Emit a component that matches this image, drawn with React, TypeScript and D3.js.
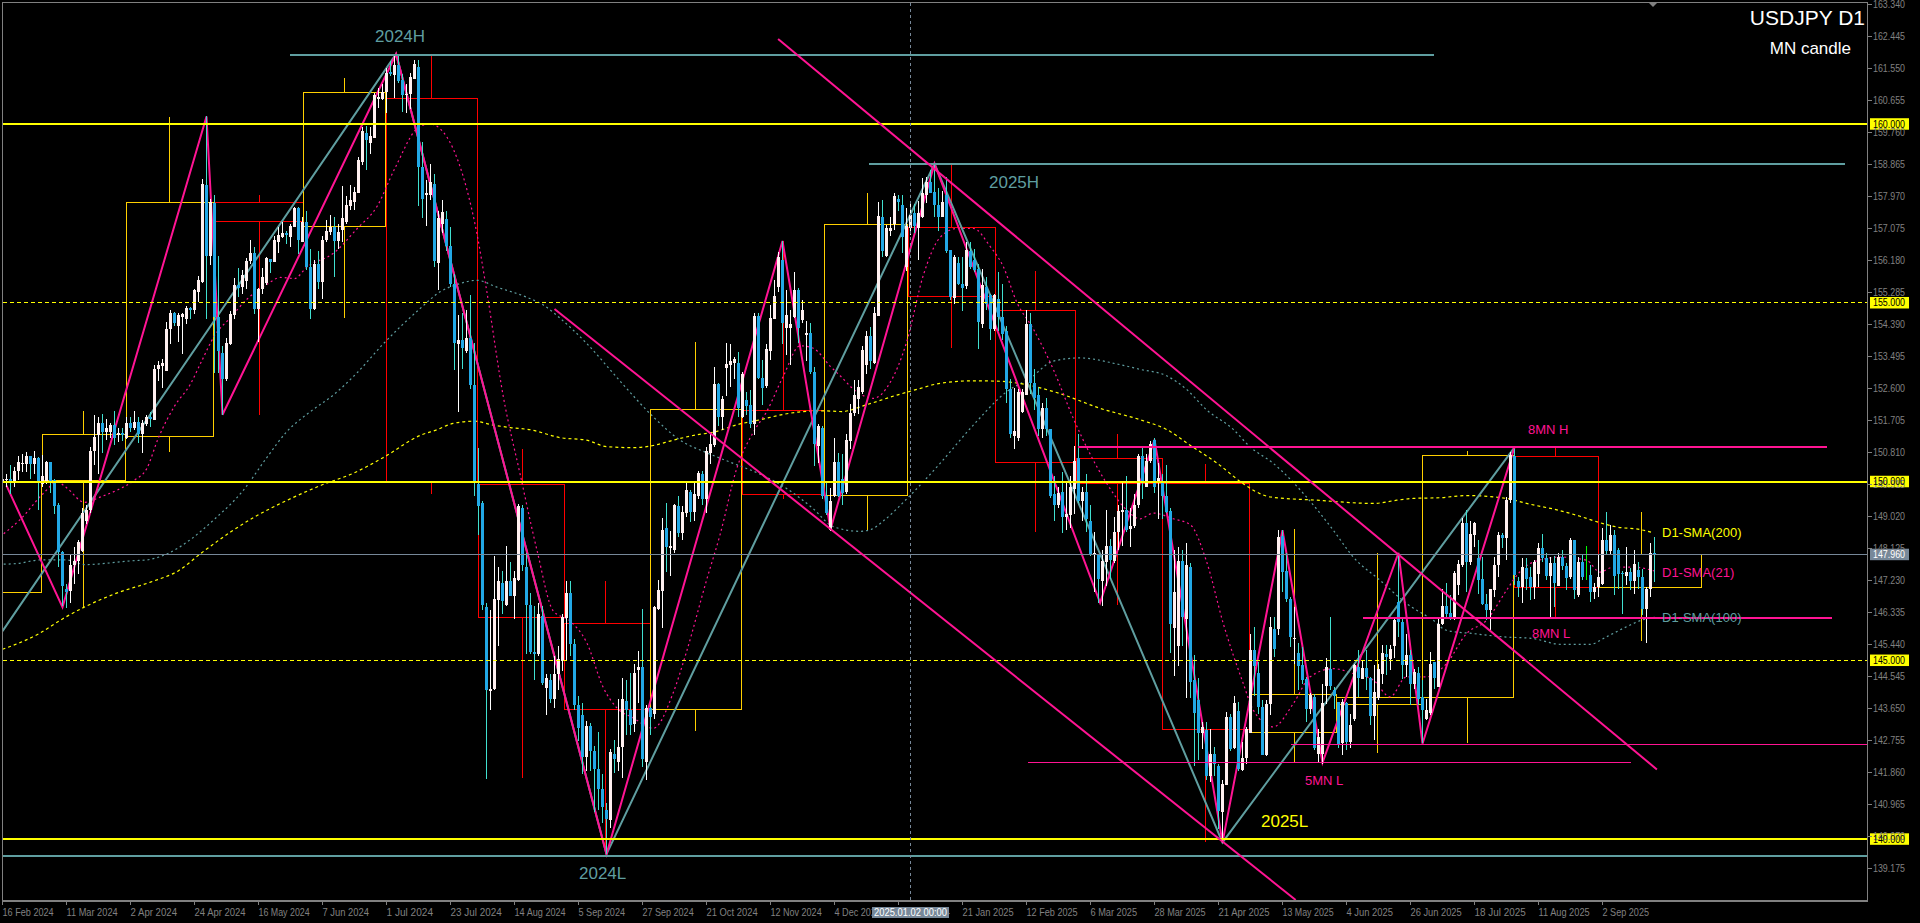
// App.tsx - USDJPY D1 chart with monthly candles
import React from 'react';
import * as d3 from 'd3';

const opens = [
150.02,150.05,150.07,149.95,150.28,150.50,150.47,150.70,150.47,150.66,
149.93,149.98,150.54,150.03,149.33,148.03,147.00,146.93,147.65,147.76,
148.05,148.90,149.20,150.84,151.30,151.64,151.38,151.38,151.56,151.28,
151.36,151.22,151.63,151.50,151.67,151.33,151.60,151.80,151.72,153.13,
153.22,153.09,154.25,154.70,154.35,154.60,154.55,154.85,154.78,155.28,
155.58,158.28,156.30,157.78,154.60,153.60,152.85,153.85,154.66,155.50,
155.42,155.60,156.15,156.38,154.83,155.37,155.55,156.22,156.14,156.68,
156.82,156.95,156.82,157.12,157.63,156.70,157.24,155.98,154.83,156.07,
155.58,156.74,156.98,157.11,156.72,157.02,157.25,157.70,157.82,158.06,
158.93,159.75,159.47,159.60,160.70,160.70,160.88,161.45,161.37,161.63,
161.22,160.80,160.82,161.25,161.60,158.79,158.00,158.00,158.32,156.10,
157.20,157.33,156.58,155.53,153.85,153.96,153.65,154.00,152.68,149.93,
149.40,146.49,144.14,144.20,146.68,147.15,146.55,147.20,146.80,147.23,
149.24,147.60,146.54,145.23,145.16,146.24,144.23,144.43,143.90,144.60,
144.97,146.17,146.87,145.45,143.73,143.45,142.30,143.15,142.45,141.95,
141.40,140.80,140.53,142.37,142.16,142.58,143.85,143.60,143.20,144.72,
144.80,142.16,143.65,143.50,146.44,146.92,148.70,148.13,148.08,149.30,
148.55,149.10,149.70,149.15,149.60,150.20,149.50,150.78,151.01,152.73,
151.80,153.16,153.25,153.31,153.31,151.80,152.27,152.12,151.60,154.62,
152.90,152.66,153.65,154.55,155.44,156.20,154.29,154.30,154.60,155.36,
154.50,154.08,154.15,153.05,151.00,151.50,149.58,148.65,149.58,150.54,
150.07,149.70,151.14,151.91,152.29,152.51,153.26,154.07,153.32,154.63,
157.38,156.30,157.00,157.20,157.90,157.73,155.98,157.07,157.50,157.07,
157.40,158.00,158.36,158.10,157.73,157.40,158.00,156.48,155.13,156.10,
155.53,155.45,156.43,156.20,155.95,154.40,155.44,155.20,154.25,155.10,
154.60,154.20,152.57,151.27,151.20,151.95,152.40,154.41,152.76,152.40,
151.45,152.04,151.45,149.65,149.33,149.70,148.99,149.05,149.78,150.64,
149.45,149.70,148.90,147.95,147.95,147.20,147.73,148.20,147.78,148.58,
149.15,149.20,148.66,148.74,149.33,150.70,149.85,150.57,151.16,149.95,
149.95,149.58,149.17,145.90,145.40,147.76,146.15,147.60,144.45,143.87,
142.95,143.05,141.75,142.37,142.05,140.75,141.50,143.40,142.55,143.57,
141.92,142.25,142.95,145.27,144.64,143.69,142.34,143.78,145.88,145.86,
148.46,147.49,146.72,145.60,145.20,144.86,144.47,143.63,143.98,142.38,
142.38,144.27,144.76,144.15,143.83,142.68,143.79,142.71,143.34,144.81,
144.48,144.79,144.51,143.43,143.93,144.62,145.17,145.02,145.38,146.63,
146.07,144.86,145.15,144.32,144.64,143.97,143.36,143.52,144.95,144.25,
146.00,146.50,146.32,146.19,147.09,147.65,148.82,147.74,148.50,147.84,
147.28,146.56,146.39,146.95,147.65,148.49,148.42,149.47,150.70,147.21,
147.05,147.58,147.33,147.05,147.42,148.12,147.84,147.34,147.72,147.06,
147.87,147.62,147.33,148.36,146.82,147.75,147.70,147.38,146.91,147.05,
147.14,148.36,148.05,148.50,148.08,147.44,147.36,147.45,147.22,147.52,
147.31,146.44,147.00,147.99,
];

const closes = [
150.05,150.07,149.95,150.28,150.54,150.52,150.70,150.47,150.66,149.95,
150.14,150.54,149.95,149.31,148.01,147.08,146.90,147.65,147.78,148.30,
149.10,149.20,150.86,151.25,151.64,151.38,151.50,151.58,151.20,151.36,
151.28,151.63,151.50,151.67,151.33,151.64,151.80,151.73,153.15,153.25,
153.30,154.25,154.70,154.42,154.65,154.68,154.85,154.78,155.35,155.63,
158.31,156.30,157.80,154.60,153.65,152.85,153.87,154.68,155.48,155.40,
155.78,156.17,156.38,154.83,155.37,155.71,156.25,156.12,156.76,156.90,
156.95,156.90,157.15,157.63,156.76,157.24,155.98,154.83,156.07,155.58,
156.76,157.00,157.11,156.72,156.97,157.37,157.72,157.88,158.10,158.98,
159.81,159.55,159.66,160.80,160.75,160.88,161.43,161.40,161.65,161.20,
160.80,160.83,161.30,161.67,158.80,157.90,158.07,158.36,156.15,157.36,
157.53,156.58,155.53,153.86,153.96,153.72,154.00,152.68,150.00,149.30,
146.55,144.16,144.20,146.70,147.20,146.66,147.20,146.80,147.30,149.30,
147.65,146.54,145.23,145.16,146.30,144.37,144.50,143.90,144.60,145.03,
146.20,146.87,145.45,143.73,143.10,142.30,143.15,142.45,141.95,141.40,
140.90,140.56,142.42,142.23,142.58,143.90,143.60,143.17,144.65,144.80,
142.23,143.65,143.40,146.47,146.95,148.65,148.15,148.20,149.35,148.55,
149.15,149.75,149.15,149.65,150.22,149.50,150.85,151.05,152.73,151.80,
152.31,153.28,153.36,153.41,152.04,152.99,152.10,151.60,154.62,152.90,
152.62,153.71,154.58,155.18,156.28,154.43,154.65,154.39,155.36,154.29,
154.80,154.15,153.05,151.05,151.55,149.58,149.10,149.44,150.54,149.58,
149.66,151.16,151.91,152.41,152.64,153.66,154.07,153.36,154.72,157.41,
156.45,157.07,157.07,157.98,157.82,156.82,157.13,157.45,157.13,157.50,
158.07,158.36,158.07,157.73,157.40,157.82,156.44,155.16,156.28,155.53,
155.41,156.48,156.00,155.90,154.45,155.50,154.95,154.26,155.20,154.60,
154.13,152.57,151.32,151.41,152.50,152.50,154.41,152.76,152.32,151.45,
152.04,151.45,149.58,149.33,149.66,148.99,149.08,149.83,150.57,149.45,
149.70,148.95,147.95,148.00,147.26,147.76,148.20,147.80,148.58,149.16,
149.20,148.64,148.76,149.33,150.70,150.00,150.57,151.04,149.83,150.10,
149.58,149.14,146.02,146.90,147.76,146.20,147.66,144.39,143.52,142.95,
143.12,141.75,142.37,142.08,140.77,141.52,143.40,142.52,143.80,141.96,
142.27,143.08,145.27,144.83,143.69,142.34,143.78,145.91,145.32,148.44,
147.46,146.72,145.65,145.63,144.83,144.45,143.64,144.02,142.53,142.85,
143.80,144.81,144.27,144.00,142.62,143.83,142.71,143.18,144.86,144.51,
144.79,144.53,143.43,144.11,144.76,145.20,145.09,145.32,146.11,146.07,
144.86,145.15,144.32,144.67,143.92,143.60,143.60,144.90,144.51,146.02,
146.50,146.28,146.19,147.44,147.68,148.82,147.74,148.52,148.82,147.25,
146.56,146.39,147.00,147.65,148.49,148.42,149.47,150.73,147.37,147.05,
147.60,147.28,147.05,147.74,148.12,147.84,147.34,147.72,147.16,147.87,
147.62,147.30,148.36,146.96,147.75,147.31,147.70,146.91,147.03,147.33,
148.36,148.05,148.50,147.35,147.40,147.42,147.45,147.22,147.68,147.33,
146.44,147.00,147.99,147.96,
];

const highs = [
150.17,150.20,150.45,150.40,150.70,150.75,150.82,150.70,150.84,150.68,
150.73,150.57,150.52,150.07,149.38,148.05,147.13,147.95,148.17,148.37,
149.25,149.33,150.96,151.85,151.80,151.87,151.75,151.63,151.97,151.48,
151.50,151.79,151.79,151.97,151.80,151.70,151.85,151.95,153.25,153.35,
153.42,154.45,154.80,154.74,154.70,154.72,154.90,154.88,155.38,155.73,
158.44,160.22,157.90,158.00,156.30,153.78,154.00,154.77,155.68,155.97,
155.90,156.25,156.76,156.56,155.40,155.97,156.28,156.22,156.85,157.10,
157.26,157.00,157.20,157.68,157.68,157.40,157.55,156.50,156.20,156.43,
156.85,157.30,157.45,157.40,157.20,158.25,157.98,158.28,158.23,159.07,
159.90,159.95,159.92,160.85,161.00,161.10,161.55,161.75,161.95,161.93,
161.40,161.10,161.42,161.78,161.78,159.50,158.43,158.86,158.60,157.57,
157.86,157.57,157.10,155.80,154.65,154.72,154.80,155.20,153.87,150.93,
149.44,146.60,146.40,147.90,147.60,147.50,148.20,147.73,147.50,149.36,
149.34,148.00,146.87,146.50,146.60,146.50,144.60,144.60,145.10,145.40,
146.30,147.20,147.20,145.60,144.00,143.80,143.30,143.25,142.60,143.00,
141.80,141.00,142.50,142.75,143.90,144.50,144.45,144.65,144.90,145.25,
146.43,143.73,143.70,146.50,147.23,148.98,149.40,148.60,149.37,149.60,
149.30,150.00,149.75,150.00,150.30,150.30,150.95,151.37,153.20,152.75,
152.38,153.88,153.85,153.48,153.62,153.06,152.50,152.55,154.70,154.70,
153.40,153.85,154.92,155.62,156.42,156.73,155.34,154.79,155.86,155.40,
155.08,154.48,154.43,153.20,151.60,151.55,150.00,149.80,151.20,150.80,
150.76,151.32,152.16,152.82,152.82,153.78,154.20,154.32,154.86,157.82,
157.88,157.16,157.38,158.07,158.00,158.00,157.63,157.82,157.76,157.85,
158.48,158.50,158.70,158.88,158.20,158.13,158.50,156.48,156.32,156.26,
156.26,156.70,156.70,156.50,156.07,155.95,155.70,155.25,155.23,155.85,
155.53,154.35,152.85,152.60,152.57,152.57,154.78,154.70,153.13,152.64,
152.20,152.32,151.45,150.14,149.83,150.26,149.95,150.14,151.00,151.32,
149.83,150.20,149.33,148.58,147.95,148.08,149.20,148.39,149.00,149.33,
149.95,150.14,149.26,149.64,150.76,151.00,150.76,151.14,151.20,150.50,
150.20,150.45,149.26,148.08,148.16,148.08,148.27,147.70,145.14,144.50,
143.27,143.27,143.08,142.56,142.10,141.65,143.54,143.50,144.00,143.83,
142.70,143.14,145.74,145.93,144.95,143.88,143.88,146.19,146.19,148.65,
148.65,147.98,146.77,146.49,145.48,145.37,144.53,144.08,144.06,143.08,
144.34,145.07,146.21,144.25,143.83,143.92,143.83,143.50,144.90,145.27,
145.00,145.27,144.53,144.86,144.90,145.42,145.42,145.42,146.21,147.98,
146.21,145.74,145.27,144.76,144.80,144.44,143.92,145.22,144.95,146.21,
147.00,147.16,146.81,147.50,147.79,148.96,149.19,148.90,148.86,148.35,
147.87,146.86,147.00,147.88,148.58,148.54,149.56,150.82,150.91,147.33,
147.84,147.84,147.60,147.79,148.26,148.52,147.98,147.88,147.90,147.98,
148.09,147.72,148.40,148.36,147.89,147.93,148.19,147.66,147.16,147.93,
148.68,149.13,148.77,148.64,148.12,147.50,148.17,147.58,148.08,147.75,
147.56,147.03,148.28,148.45,
];

const lows = [
149.95,149.85,149.65,149.84,150.03,150.26,150.26,150.05,150.21,149.20,
149.84,149.93,149.67,149.08,147.60,146.51,146.46,146.60,147.13,147.40,
148.03,148.80,149.10,150.45,150.20,150.80,151.15,151.20,151.02,151.10,
151.12,151.17,151.38,151.43,151.07,150.80,151.55,151.53,151.70,152.80,
152.60,153.10,153.85,154.33,153.90,153.57,154.40,154.55,154.67,155.00,
155.55,154.53,156.05,153.03,153.03,151.84,152.80,153.80,154.53,155.15,
155.25,155.38,156.09,154.68,153.90,155.25,155.50,155.82,156.12,156.38,
156.80,156.64,156.55,157.10,156.36,156.70,155.90,154.53,154.78,155.37,
155.10,156.68,156.90,155.70,156.50,156.70,157.20,157.60,157.60,158.05,
158.85,158.70,159.14,159.60,160.45,160.65,160.30,161.33,160.72,161.15,
160.33,160.30,160.40,161.25,157.70,157.36,157.15,157.86,156.00,155.36,
156.93,156.43,155.43,153.12,151.94,153.15,153.58,152.58,149.58,148.50,
146.40,141.66,143.60,144.16,145.40,146.30,146.50,146.80,146.15,147.20,
147.50,145.16,145.16,144.45,145.10,144.30,143.45,143.80,143.65,144.15,
144.70,145.00,145.10,143.60,142.73,141.80,141.90,141.90,140.74,140.80,
140.45,139.57,140.30,141.85,141.90,141.70,142.90,142.90,143.00,143.80,
142.00,141.65,142.90,143.35,146.40,145.90,147.45,147.35,148.00,148.43,
148.35,149.00,148.85,148.90,149.50,149.35,149.10,150.48,150.96,151.54,
151.43,152.38,152.64,152.87,151.80,151.76,151.85,151.48,151.30,152.87,
152.13,152.62,153.39,154.55,155.30,153.85,153.53,153.25,154.58,153.87,
154.43,153.36,153.00,150.44,150.50,149.50,149.05,148.60,149.55,149.55,
149.33,149.64,150.89,151.82,151.89,152.45,153.00,153.13,153.28,154.61,
156.26,156.26,156.86,157.03,157.57,156.38,155.88,156.88,156.95,156.20,
157.36,157.78,158.07,157.38,157.00,157.38,156.38,155.07,154.95,155.50,
154.76,155.38,155.94,155.85,153.70,154.30,154.80,153.95,154.20,154.20,
153.95,152.20,151.20,150.90,151.14,151.90,152.40,152.45,152.00,151.26,
151.20,151.26,149.54,148.90,149.26,148.54,148.64,148.70,149.08,149.39,
148.90,148.58,147.91,146.89,146.60,146.50,147.07,147.26,147.70,148.08,
148.20,148.58,148.16,148.70,149.26,149.50,149.83,150.50,149.66,148.95,
148.95,149.12,145.20,144.55,144.83,145.40,143.95,143.95,142.05,142.20,
142.50,141.64,141.60,141.75,140.27,139.88,141.50,142.45,142.50,141.90,
141.90,142.10,142.95,144.00,143.50,142.34,142.31,143.46,145.09,145.69,
146.90,146.63,145.37,144.90,144.16,144.34,143.27,143.50,142.48,142.15,
142.10,143.78,144.15,143.64,142.53,142.34,142.48,142.53,143.30,143.97,
144.48,144.15,143.18,142.76,143.88,144.34,144.58,144.71,145.05,145.65,
144.48,144.53,143.74,144.20,143.74,142.67,143.32,143.45,144.20,144.25,
145.97,146.20,146.11,146.11,146.81,147.60,146.90,147.65,148.16,146.86,
146.53,146.11,145.83,146.77,147.32,148.12,147.79,149.38,147.09,146.77,
146.60,146.95,146.67,146.72,147.05,147.74,147.23,146.20,146.47,147.06,
147.53,146.96,147.28,146.72,146.77,147.24,147.24,146.63,146.72,146.75,
147.10,147.93,147.96,146.82,147.00,146.30,147.10,146.96,146.86,147.00,
146.26,145.48,146.77,147.19,
];

// bar drawn only as a lime line in the terminal
const limeBars = [396];

// monthly candles, positions in daily bar numbers
const monthFrom = [-3,10,31,52.9,75.2,95.9,119,140.5,162,185,205.5,226.5,248.3,268.4,289.9,311.9,333.5,355,377.9,399];
const monthTo = [9.8,30.8,52.7,75.2,95.8,118.7,140.5,161.9,184.8,205.5,226.3,248.2,268.2,289.8,311.7,333.4,354.8,377.7,398.8,424.8];
const monthMid = [-3,20.2,41.7,64.2,85.4,107.2,130,150.7,173.2,195.2,216.2,237.2,258.2,278.7,300.7,322.9,343.7,366.2,388.2,409.8];
const monthOpen = [146.9,150.0,151.25,157.8,157.13,160.71,149.91,146.03,143.62,151.97,149.6,157.09,154.78,150.64,149.95,142.97,143.76,143.95,150.7,147.03];
const monthClose = [150.0,151.3,157.8,157.28,160.88,149.97,146.2,143.62,152.0,149.63,157.17,155.16,150.54,149.95,143.06,144.04,143.95,150.73,147.03,147.96];
const monthHigh = [150.0,151.97,160.2,158.0,161.27,161.95,150.9,147.2,153.89,156.72,158.07,158.86,155.88,151.32,150.47,148.66,148.0,150.85,150.94,149.13];
const monthLow = [146.9,146.48,150.83,151.86,154.56,149.63,141.69,139.57,143.02,149.5,148.64,153.72,148.58,146.54,139.9,142.13,142.39,142.68,146.2,145.52];

const sma200Bars = [0,9,15,21,28.5,37,44,49.8,57,63,71,79.5,88,95,104.8,108.6,112.7,118,122.3,127,132,139.4,146,151,157.7,162.7,167.7,173.6,177.7,183.6,189.4,195.2,199.4,205.2,209.8,216,223.6,228.6,234.4,242.7,248.6,256,264.4,274.4,284.4,291,297,303.6,310.2,312.7,317,328.6,342.7,348.6,352.7,359.4,366,376,381,388.6,394.4,399.4,403.6,409.4,412.7];
const sma200Vals = [145.3,145.73,146.15,146.51,146.87,147.18,147.5,148.0,148.58,149.0,149.46,149.88,150.24,150.65,151.3,151.44,151.62,151.68,151.58,151.5,151.44,151.22,151.15,150.97,150.94,151.0,151.15,151.3,151.37,151.58,151.72,151.87,151.94,151.97,151.95,152.14,152.41,152.57,152.74,152.81,152.8,152.7,152.45,152.04,151.72,151.45,151.0,150.51,149.93,149.75,149.56,149.47,149.38,149.47,149.52,149.54,149.6,149.52,149.38,149.2,149.02,148.84,148.72,148.65,148.56];

const sma100Bars = [0.3,3.7,9.5,16,20.5,33,36,41,47,53,60,66,71,77,83,88.7,95,104.4,109.4,113.6,118.6,123.6,131,135.2,140,146,154.4,162.7,169.4,176,182.7,189.4,196,202.7,207.7,214.4,217.3,220.2,226,234.4,242.7,251,257,262.7,269.4,278.6,284.4,291,296,301,307.7,311.9,317.7,326,332.7,337.7,344.4,351,357.7,361,367.7,375,382.7,389.4,396.9,401,406,410.2,413.6];
const sma100Vals = [147.68,147.7,147.8,147.8,147.67,147.78,147.8,147.96,148.37,148.94,149.72,150.65,151.38,151.95,152.44,153.04,153.82,154.83,155.3,155.5,155.62,155.43,155.15,154.93,154.5,153.86,152.8,151.8,151.15,150.8,150.5,150.2,149.8,149.23,148.73,148.6,148.66,148.89,149.5,150.5,151.57,152.5,152.89,153.36,153.45,153.28,153.13,152.95,152.57,152.0,151.45,150.96,150.5,149.56,148.63,147.88,147.23,146.58,146.11,145.83,145.74,145.65,145.6,145.44,145.44,145.65,145.93,146.13,146.2];

const sma21Bars = [0.3,4.5,10.3,13.7,16,20.5,24.7,29,33,36,39,43,47,49.7,53,57,61.2,66,69.5,73,76,83,88.7,93.7,98,104.4,107,109.4,112.7,116,118.6,121,125.2,129.4,133.6,137.7,141.9,146,150.2,153.6,157.7,162.7,167.7,171,176,179.4,183.6,187.7,191,195.2,199.4,202.7,206.9,209.4,213.6,217.7,221.9,226,230.2,234.4,238.6,242.7,246.9,250.2,253.6,257.7,262.7,267.7,271.9,276,281,284.4,287.7,292.7,296.9,301,305.2,310.2,312.7,317.7,322.7,326.9,332.7,337.7,342.7,346.9,351,356,361,366,371,376,378.6,382.7,389.4,396,399.4,402.7,407.7,413.6];
const sma21Vals = [148.53,148.94,149.67,149.98,149.82,149.41,149.57,149.77,150.03,150.34,151.22,152.1,152.72,153.34,154.07,154.58,155.1,155.5,155.7,155.67,155.98,156.4,157.07,157.7,158.73,159.93,159.99,159.86,159.29,158.2,156.93,155.36,152.37,150.2,148.08,146.37,146.09,145.5,144.23,143.66,143.38,143.09,144.09,145.23,147.23,148.51,150.37,151.37,151.94,152.94,153.79,153.72,153.22,152.95,152.5,152.32,152.76,153.88,155.76,156.82,157.07,157.07,156.57,156.0,155.0,154.26,153.13,151.76,150.76,149.95,149.2,148.95,149.11,148.95,148.79,147.76,146.02,144.34,143.6,143.13,143.78,144.53,144.76,144.62,144.44,143.97,144.53,144.53,144.9,145.74,146.11,146.95,147.37,147.74,147.88,147.79,147.46,147.6,147.6,147.47];

// zigzag pivots
const pinkPivotBars = [1,15,51,55,98.4,151,195,207,233,274.4,288,305,320,330,349,355,378];
const pinkPivotVals = [149.88,146.48,160.2,151.86,161.95,139.57,156.72,148.65,158.88,146.6,151.16,139.9,148.63,142.13,148.0,142.66,150.95];
const tealPivotBars = [0,98.4,151,233,305,378];
const tealPivotVals = [145.81,161.95,139.57,158.88,139.9,150.95];

const yTickLabels = ['163.340','162.445','161.550','160.655','159.760','158.865','157.970','157.075','156.180','155.285','154.390','153.495','152.600','151.705','150.810','149.915','149.020','148.125','147.230','146.335','145.440','144.545','143.650','142.755','141.860','140.965','140.070','139.175'];
const xTickLabels = ['16 Feb 2024','11 Mar 2024','2 Apr 2024','24 Apr 2024','16 May 2024','7 Jun 2024','1 Jul 2024','23 Jul 2024','14 Aug 2024','5 Sep 2024','27 Sep 2024','21 Oct 2024','12 Nov 2024','4 Dec 2024','26 Dec 2024','21 Jan 2025','12 Feb 2025','6 Mar 2025','28 Mar 2025','21 Apr 2025','13 May 2025','4 Jun 2025','26 Jun 2025','18 Jul 2025','11 Aug 2025','2 Sep 2025'];
const BARS_PER_LABEL = 16;

const roundLevels = [160, 150, 140];
const dashedLevels = [155, 145];
const lastPrice = 147.96;
const crosshairBar = 227;

const W = 1920, H = 923;
const LEFT = 2.5, RIGHT = 1867.5, TOP = 2.5, BOTTOM = 900.5;

const x = d3.scaleLinear().domain([0, 1]).range([2.5, 6.5]);
const y = d3.scaleLinear().domain([163.34, 139.175]).range([4.3, 868.3]);

const PINK = '#ff1493', TEAL = '#5f9ea0', YELLOW = '#ffff00', GOLD = '#ffd000', RED = '#ff0000', GREY = '#808080', SLATE = '#778899';
const FONT = '"Liberation Sans", Arial, sans-serif';

const smaLine = (bars: number[], vals: number[]) =>
  d3.line<number>().x(d => x(d)).y((_, i) => y(vals[i])).curve(d3.curveMonotoneX)(bars) || '';
const pivotLine = (bars: number[], vals: number[]) =>
  d3.line<number>().x(d => x(d)).y((_, i) => y(vals[i]))(bars) || '';

// px helper so thin rules land on whole pixels
const snap = (v: number) => Math.round(v - 0.5) + 0.5;

const Label = ({ px, py, fill, size = 13, children }: any) => (
  <text x={px} y={py} fill={fill} fontSize={size} fontFamily={FONT}>{children}</text>
);

const Candles = () => (
  <g shapeRendering="crispEdges">
    {closes.map((c, i) => {
      const o = opens[i];
      const up = c >= o;
      const cx = x(i);
      const lime = limeBars.includes(i);
      const top = y(Math.max(o, c));
      const h = Math.max(1, y(Math.min(o, c)) - top);
      return (
        <g key={i}>
          <line x1={cx} x2={cx} y1={y(highs[i])} y2={y(lows[i])} stroke={lime ? '#00ff00' : up ? '#ffffff' : '#40e0d0'} strokeWidth={1} />
          {!lime && <rect x={cx - 1.5} y={top} width={3} height={h} fill={up ? '#fff0f0' : '#22a8e6'} />}
        </g>
      );
    })}
  </g>
);

const MonthCandles = () => (
  <g shapeRendering="crispEdges" fill="none" strokeWidth={1}>
    {monthFrom.map((f, i) => {
      const col = monthClose[i] >= monthOpen[i] ? GOLD : RED;
      const bodyTop = Math.max(monthOpen[i], monthClose[i]);
      const bodyLow = Math.min(monthOpen[i], monthClose[i]);
      const rx = snap(x(f)), rw = x(monthTo[i]) - x(f);
      return (
        <g key={i} stroke={col}>
          <rect x={rx} y={snap(y(bodyTop))} width={rw} height={y(bodyLow) - y(bodyTop)} />
          <line x1={snap(x(monthMid[i]))} x2={snap(x(monthMid[i]))} y1={y(monthHigh[i])} y2={y(bodyTop)} />
          <line x1={snap(x(monthMid[i]))} x2={snap(x(monthMid[i]))} y1={y(bodyLow)} y2={y(monthLow[i])} />
        </g>
      );
    })}
  </g>
);

const PriceTag = ({ price, bg }: any) => (
  <rect x={1870} y={y(price) - 5.5} width={39} height={11.5} fill={bg} stroke="none" />
);

const App: React.FC = () => {
  const hRule = (price: number, px1: number, px2: number, col: string, w: number) => (
    <line x1={px1} x2={px2} y1={snap(y(price))} y2={snap(y(price))} stroke={col} strokeWidth={w} shapeRendering="crispEdges" />
  );

  return (
    <svg width={W} height={H} style={{ position: 'absolute', left: 0, top: 0, display: 'block', background: '#000' }}>
      <defs>
        <clipPath id="plot"><rect x={LEFT} y={TOP} width={RIGHT - LEFT} height={BOTTOM - TOP} /></clipPath>
      </defs>

      <g clipPath="url(#plot)">
        <MonthCandles />

        {/* moving averages */}
        <path d={smaLine(sma100Bars, sma100Vals)} fill="none" stroke={TEAL} strokeWidth={1.2} strokeDasharray="2 3" />
        <path d={smaLine(sma200Bars, sma200Vals)} fill="none" stroke={YELLOW} strokeWidth={1.2} strokeDasharray="3 3" />
        <path d={smaLine(sma21Bars, sma21Vals)} fill="none" stroke={PINK} strokeWidth={1.2} strokeDasharray="2 3" />

        {/* zigzags */}
        <path d={pivotLine(tealPivotBars, tealPivotVals)} fill="none" stroke={TEAL} strokeWidth={2} />
        <path d={pivotLine(pinkPivotBars, pinkPivotVals)} fill="none" stroke={PINK} strokeWidth={2} />

        <Candles />

        {/* levels */}
        {hRule(lastPrice, LEFT, RIGHT, SLATE, 1)}
        {roundLevels.map(l => <g key={l}>{hRule(l, LEFT, RIGHT, YELLOW, 2)}</g>)}
        {dashedLevels.map(l => (
          <line key={l} x1={LEFT} x2={RIGHT} y1={snap(y(l))} y2={snap(y(l))} stroke={YELLOW} strokeWidth={1} strokeDasharray="4 3" shapeRendering="crispEdges" />
        ))}
        {hRule(161.93, 290, 1434, TEAL, 2)}
        {hRule(158.89, 869, 1845, TEAL, 2)}
        {hRule(139.52, LEFT, RIGHT, TEAL, 2)}
        {hRule(150.96, 1078, 1827, PINK, 2)}
        {hRule(146.2, 1363, 1832, PINK, 2)}
        {hRule(142.65, 1291, RIGHT, PINK, 1)}
        {hRule(142.13, 1028, 1631, PINK, 1)}

        {/* channel lines */}
        <line x1={x(193.9)} y1={y(162.37)} x2={x(413.6)} y2={y(141.94)} stroke={PINK} strokeWidth={2} />
        <line x1={x(138)} y1={y(154.82)} x2={x(323.3)} y2={y(138.29)} stroke={PINK} strokeWidth={2} />

        {/* crosshair */}
        <line x1={snap(x(crosshairBar))} x2={snap(x(crosshairBar))} y1={TOP} y2={BOTTOM} stroke={SLATE} strokeWidth={1} strokeDasharray="3 3" shapeRendering="crispEdges" />
      </g>

      {/* texts on the chart */}
      <Label px={375} py={42} fill={TEAL} size={17}>2024H</Label>
      <Label px={989} py={188} fill={TEAL} size={17}>2025H</Label>
      <Label px={579} py={879} fill={TEAL} size={17}>2024L</Label>
      <Label px={1261} py={827} fill={YELLOW} size={17}>2025L</Label>
      <Label px={1528} py={434} fill={PINK}>8MN H</Label>
      <Label px={1532} py={638} fill={PINK}>8MN L</Label>
      <Label px={1305} py={785} fill={PINK}>5MN L</Label>
      <Label px={1662} py={537} fill={YELLOW}>D1-SMA(200)</Label>
      <Label px={1662} py={577} fill={PINK}>D1-SMA(21)</Label>
      <Label px={1662} py={622} fill={TEAL}>D1-SMA(100)</Label>
      <text x={1865} y={25} textAnchor="end" fill="#fff" fontSize={21} fontFamily={FONT}>USDJPY D1</text>
      <text x={1851} y={54} textAnchor="end" fill="#fff" fontSize={17} fontFamily={FONT}>MN candle</text>

      {/* frame */}
      <g stroke={GREY} strokeWidth={1} shapeRendering="crispEdges" fill="none">
        <path d={`M${LEFT} ${BOTTOM}V${TOP}H${RIGHT}V${BOTTOM}H${LEFT}`} />
        <path d={`M${LEFT} ${BOTTOM + 1}H${RIGHT}`} />
      </g>
      <path d="M1648 2 L1658 2 L1653 7 Z" fill={GREY} />

      {/* price tags go under the tick labels */}
      {[160, 155, 150, 145, 140].map(l => <PriceTag key={l} price={l} bg={YELLOW} />)}
      <PriceTag price={lastPrice} bg={SLATE} />

      {/* right axis */}
      {yTickLabels.map(t => {
        const py = y(+t);
        return (
          <g key={t}>
            <line x1={RIGHT} x2={RIGHT + 4} y1={snap(py)} y2={snap(py)} stroke={GREY} shapeRendering="crispEdges" />
            <text x={1873} y={py + 4} fill={GREY} fontSize={11} fontFamily={FONT} textLength={32} lengthAdjust="spacingAndGlyphs">{t}</text>
          </g>
        );
      })}

      {[160, 155, 150, 145, 140].map(l => (
        <text key={l} x={1873} y={y(l) + 4} fill="#000" fontSize={11} fontFamily={FONT} textLength={32} lengthAdjust="spacingAndGlyphs">{l.toFixed(3)}</text>
      ))}
      <text x={1873} y={y(lastPrice) + 4} fill="#fff" fontSize={11} fontFamily={FONT} textLength={32} lengthAdjust="spacingAndGlyphs">{lastPrice.toFixed(3)}</text>

      {/* time axis */}
      {xTickLabels.map((t, k) => {
        const px = x(k * BARS_PER_LABEL);
        return (
          <g key={t}>
            <line x1={snap(px)} x2={snap(px)} y1={BOTTOM} y2={BOTTOM + 4} stroke={GREY} shapeRendering="crispEdges" />
            <text x={px} y={916} fill={GREY} fontSize={11} fontFamily={FONT} textLength={t.length * 4.65} lengthAdjust="spacingAndGlyphs">{t}</text>
          </g>
        );
      })}
      <rect x={872} y={907} width={77} height={11} fill={SLATE} />
      <text x={874} y={916} fill="#fff" fontSize={11} fontFamily={FONT} textLength={73} lengthAdjust="spacingAndGlyphs">2025.01.02 00:00</text>
    </svg>
  );
};

export default App;
